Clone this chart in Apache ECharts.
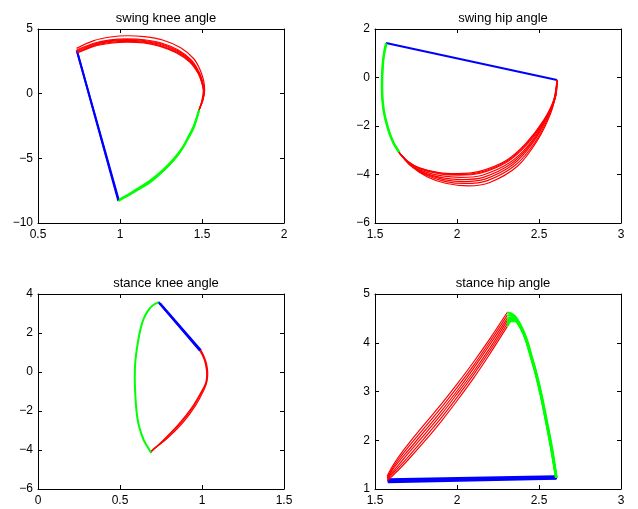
<!DOCTYPE html>
<html>
<head>
<meta charset="utf-8">
<script src="https://cdn.jsdelivr.net/npm/echarts@6/dist/echarts.min.js"></script>
<style>html,body{margin:0;padding:0;background:#fff;}#c{width:638px;height:509px;}</style>
</head>
<body>
<div id="c"></div>
<script>
// ---- titles and axis ranges ----
const titles = ['swing knee angle', 'swing hip angle', 'stance knee angle', 'stance hip angle'];
const xRanges = [[0.5, 2, 0.5], [1.5, 3, 0.5], [0, 1.5, 0.5], [1.5, 3, 0.5]];
const yRanges = [[-10, 5, 5], [-6, 2, 2], [-6, 4, 2], [1, 5, 1]];

// ---- swing knee angle ----
const swingKneeRed = [
  [[1.48,-1.35],[1.5,-0.5],[1.508,0.2],[1.497,0.9],[1.475,1.6],[1.425,2.45],[1.345,3.15],[1.245,3.66],[1.145,3.92],[1.044,3.98],[0.942,3.9],[0.84,3.66],[0.74,3.15]],
  [[1.48,-1.35],[1.502,-0.5],[1.51,0.2],[1.499,0.9],[1.477,1.6],[1.428,2.48],[1.347,3.2],[1.246,3.72],[1.145,3.98],[1.044,4.05],[0.942,3.97],[0.84,3.72],[0.74,3.2]],
  [[1.48,-1.3],[1.503,-0.5],[1.512,0.2],[1.5,0.9],[1.48,1.6],[1.43,2.52],[1.35,3.26],[1.248,3.8],[1.146,4.05],[1.044,4.12],[0.942,4.04],[0.84,3.78],[0.738,3.26]],
  [[1.48,-1.3],[1.504,-0.5],[1.513,0.2],[1.502,0.9],[1.482,1.62],[1.433,2.56],[1.352,3.32],[1.25,3.86],[1.147,4.11],[1.044,4.18],[0.942,4.1],[0.84,3.84],[0.737,3.32]],
  [[1.481,-1.3],[1.505,-0.5],[1.514,0.2],[1.504,0.92],[1.484,1.64],[1.436,2.6],[1.355,3.38],[1.252,3.92],[1.148,4.17],[1.044,4.24],[0.942,4.16],[0.84,3.9],[0.736,3.38]],
  [[1.483,-1.25],[1.508,-0.4],[1.516,0.3],[1.51,1.0],[1.49,1.8],[1.45,2.7],[1.37,3.55],[1.26,4.15],[1.15,4.41],[1.044,4.48],[0.942,4.38],[0.84,4.1],[0.735,3.5]]
];
const swingKneeGreen = [
  [[0.99,-8.3],[1.04,-7.95],[1.1,-7.5],[1.186,-6.82],[1.27,-5.9],[1.328,-5.14],[1.375,-4.35],[1.41,-3.59],[1.45,-2.6],[1.48,-1.35]],
  [[0.995,-8.2],[1.045,-7.85],[1.1,-7.4],[1.186,-6.7],[1.27,-5.8],[1.33,-5.0],[1.377,-4.25],[1.41,-3.5],[1.45,-2.5],[1.483,-1.25]]
];
const swingKneeBlue = [
  [[0.74,3.2],[0.99,-8.3]],
  [[0.736,3.35],[0.993,-8.25]]
];

// ---- swing hip angle ----
const swingHipRed = [
  [[1.645,-3.08],[1.7,-3.45],[1.77,-3.72],[1.89,-3.92],[2.0,-3.96],[2.13,-3.88],[2.3,-3.42],[2.42,-2.72],[2.53,-1.75],[2.59,-0.92],[2.61,-0.1]],
  [[1.645,-3.08],[1.702,-3.48],[1.775,-3.75],[1.895,-3.95],[2.005,-4.0],[2.135,-3.92],[2.305,-3.44],[2.425,-2.73],[2.532,-1.75],[2.591,-0.92],[2.61,-0.1]],
  [[1.645,-3.08],[1.705,-3.5],[1.78,-3.78],[1.9,-3.98],[2.01,-4.03],[2.14,-3.95],[2.31,-3.46],[2.43,-2.74],[2.535,-1.75],[2.593,-0.92],[2.61,-0.1]],
  [[1.645,-3.08],[1.708,-3.54],[1.785,-3.84],[1.91,-4.06],[2.02,-4.12],[2.15,-4.04],[2.32,-3.52],[2.44,-2.76],[2.54,-1.72],[2.596,-0.88],[2.61,-0.1]],
  [[1.645,-3.08],[1.71,-3.57],[1.79,-3.9],[1.915,-4.14],[2.03,-4.21],[2.16,-4.12],[2.33,-3.56],[2.45,-2.74],[2.545,-1.7],[2.598,-0.85],[2.61,-0.1]],
  [[1.645,-3.08],[1.713,-3.6],[1.8,-3.96],[1.92,-4.21],[2.04,-4.29],[2.17,-4.19],[2.34,-3.6],[2.46,-2.72],[2.55,-1.66],[2.6,-0.8],[2.61,-0.1]],
  [[1.645,-3.08],[1.716,-3.62],[1.81,-4.02],[1.925,-4.28],[2.05,-4.37],[2.185,-4.25],[2.355,-3.62],[2.475,-2.68],[2.56,-1.6],[2.603,-0.75],[2.61,-0.1]],
  [[1.645,-3.08],[1.72,-3.65],[1.82,-4.1],[1.93,-4.36],[2.07,-4.47],[2.2,-4.33],[2.37,-3.65],[2.49,-2.6],[2.57,-1.5],[2.605,-0.6],[2.61,-0.1]]
];
const swingHipGreen = [
  [[1.567,1.42],[1.553,0.95],[1.545,0.45],[1.541,-0.37],[1.551,-1.34],[1.581,-2.17],[1.61,-2.68],[1.645,-3.08]],
  [[1.57,1.38],[1.556,0.95],[1.548,0.45],[1.544,-0.37],[1.554,-1.34],[1.584,-2.17],[1.613,-2.68],[1.648,-3.06]]
];
const swingHipBlue = [
  [[1.567,1.42],[2.61,-0.1]]
];

// ---- stance knee angle ----
const stanceKneeRed = [
  [[0.991,1.1],[1.012,0.75],[1.025,0.4],[1.032,-0.06],[1.027,-0.5],[1.01,-0.85],[0.95,-1.75],[0.869,-2.64],[0.767,-3.5],[0.69,-4.05]],
  [[0.993,1.12],[1.015,0.75],[1.028,0.4],[1.035,-0.06],[1.03,-0.5],[1.015,-0.86],[0.962,-1.7],[0.885,-2.58],[0.785,-3.42],[0.7,-3.98]],
  [[0.988,1.08],[1.01,0.72],[1.022,0.38],[1.029,-0.08],[1.024,-0.52],[1.005,-0.88],[0.94,-1.8],[0.855,-2.7],[0.752,-3.6],[0.685,-4.14]]
];
const stanceKneeGreen = [
  [[0.69,-4.15],[0.665,-3.8],[0.645,-3.5],[0.62,-2.9],[0.605,-2.3],[0.595,-1.4],[0.59,-0.3],[0.593,0.5],[0.605,1.3],[0.625,2.2],[0.645,2.75],[0.675,3.2],[0.705,3.45],[0.735,3.57]]
];
const stanceKneeBlue = [
  [[0.733,3.6],[0.99,1.1]],
  [[0.745,3.52],[0.993,1.12]],
  [[0.738,3.56],[0.988,1.08]]
];

// ---- stance hip angle ----
const stanceHipRed = [
  [[1.576,1.17],[1.6,1.25],[1.64,1.38],[1.705,1.61],[1.8,1.97],[1.909,2.41],[2.0,2.81],[2.1,3.27],[2.2,3.77],[2.306,4.33]],
  [[1.576,1.19],[1.6,1.29],[1.64,1.43],[1.705,1.67],[1.8,2.04],[1.909,2.48],[2.0,2.88],[2.1,3.34],[2.2,3.83],[2.306,4.39]],
  [[1.576,1.21],[1.6,1.32],[1.64,1.48],[1.705,1.74],[1.8,2.11],[1.909,2.55],[2.0,2.95],[2.1,3.4],[2.2,3.89],[2.306,4.45]],
  [[1.575,1.22],[1.6,1.36],[1.64,1.54],[1.705,1.8],[1.8,2.18],[1.909,2.62],[2.0,3.01],[2.1,3.47],[2.2,3.96],[2.306,4.5]],
  [[1.575,1.24],[1.6,1.39],[1.64,1.59],[1.705,1.87],[1.8,2.25],[1.909,2.69],[2.0,3.08],[2.1,3.53],[2.2,4.02],[2.306,4.56]],
  [[1.574,1.26],[1.6,1.43],[1.64,1.64],[1.705,1.93],[1.8,2.32],[1.909,2.76],[2.0,3.15],[2.1,3.6],[2.2,4.08],[2.306,4.62]]
];
const stanceHipGreen = [
  [[2.306,4.33],[2.33,4.44],[2.355,4.44],[2.387,4.3],[2.42,4.05],[2.449,3.72],[2.48,3.35],[2.51,2.92],[2.55,2.25],[2.575,1.8],[2.603,1.23]],
  [[2.306,4.39],[2.33,4.47],[2.355,4.46],[2.388,4.31],[2.421,4.05],[2.45,3.72],[2.481,3.35],[2.511,2.92],[2.551,2.25],[2.576,1.8],[2.604,1.23]],
  [[2.306,4.45],[2.33,4.5],[2.355,4.47],[2.39,4.3],[2.422,4.05],[2.451,3.72],[2.482,3.35],[2.512,2.92],[2.552,2.25],[2.577,1.8],[2.605,1.23]],
  [[2.306,4.5],[2.33,4.53],[2.36,4.47],[2.392,4.3],[2.423,4.05],[2.452,3.72],[2.483,3.35],[2.513,2.92],[2.553,2.25],[2.578,1.8],[2.606,1.23]],
  [[2.306,4.56],[2.33,4.57],[2.36,4.5],[2.395,4.3],[2.425,4.05],[2.454,3.72],[2.485,3.35],[2.515,2.92],[2.555,2.25],[2.58,1.8],[2.607,1.23]],
  [[2.306,4.62],[2.33,4.6],[2.36,4.52],[2.398,4.3],[2.428,4.05],[2.456,3.72],[2.487,3.35],[2.517,2.92],[2.557,2.25],[2.582,1.8],[2.608,1.23]]
];
const stanceHipBlue = [
  [[1.577,1.16],[2.603,1.24]],
  [[1.58,1.2],[2.6,1.26]],
  [[1.575,1.18],[2.61,1.22]],
  [[1.578,1.14],[2.605,1.21]]
];

const panels = [
  {red: swingKneeRed, green: swingKneeGreen, blue: swingKneeBlue},
  {red: swingHipRed, green: swingHipGreen, blue: swingHipBlue},
  {red: stanceKneeRed, green: stanceKneeGreen, blue: stanceKneeBlue},
  {red: stanceHipRed, green: stanceHipGreen, blue: stanceHipBlue}
];

// ---- layout ----
const FONT = 'Liberation Sans, Arial, Helvetica, sans-serif';
const grids = [
  {left: 38, top: 29, width: 246, height: 194},
  {left: 375, top: 29, width: 246, height: 194},
  {left: 38, top: 294, width: 246, height: 195},
  {left: 375, top: 294, width: 246, height: 195}
];
const fmt = v => String(v).replace('-', '\u2212');

function axis(gi, range, pos, showLabel, isX) {
  return {
    type: 'value', gridIndex: gi, position: pos,
    min: range[0], max: range[1], interval: range[2],
    axisLine: {show: true, onZero: false, lineStyle: {color: '#000', width: 1}},
    axisTick: {show: true, inside: true, length: 4, lineStyle: {color: '#000', width: 1}},
    splitLine: {show: false},
    axisLabel: {show: showLabel, color: '#000', fontSize: 12, fontFamily: FONT,
                margin: isX ? 6 : 5, formatter: fmt, showMinLabel: true, showMaxLabel: true}
  };
}

const xAxes = [], yAxes = [], series = [], titleOpts = [];
grids.forEach((g, i) => {
  xAxes.push(axis(i, xRanges[i], 'bottom', true, true));
  xAxes.push(axis(i, xRanges[i], 'top', false, true));
  yAxes.push(axis(i, yRanges[i], 'left', true, false));
  yAxes.push(axis(i, yRanges[i], 'right', false, false));
  titleOpts.push({
    text: titles[i], left: g.left + g.width / 2, textAlign: 'center',
    top: g.top - 22,
    textStyle: {fontSize: 13, fontWeight: 'normal', color: '#000', fontFamily: FONT}
  });
});

function add(curves, color, width, pi, smooth) {
  curves.forEach(c => {
    series.push({
      type: 'line', data: c, xAxisIndex: pi * 2, yAxisIndex: pi * 2,
      showSymbol: false, symbol: 'none', smooth: smooth, silent: true,
      lineStyle: {color: color, width: width}, z: 2
    });
  });
}
panels.forEach((p, i) => {
  add(p.blue, '#0000ff', 2, i, false);
  add(p.red, '#ff0000', 1.2, i, 0.3);
  add(p.green, '#00ff00', 2, i, 0.3);
});

const chart = echarts.init(document.getElementById('c'), null, {renderer: 'canvas'});
chart.setOption({
  animation: false,
  backgroundColor: '#fff',
  title: titleOpts,
  grid: grids,
  xAxis: xAxes,
  yAxis: yAxes,
  series: series
});
</script>
</body>
</html>
